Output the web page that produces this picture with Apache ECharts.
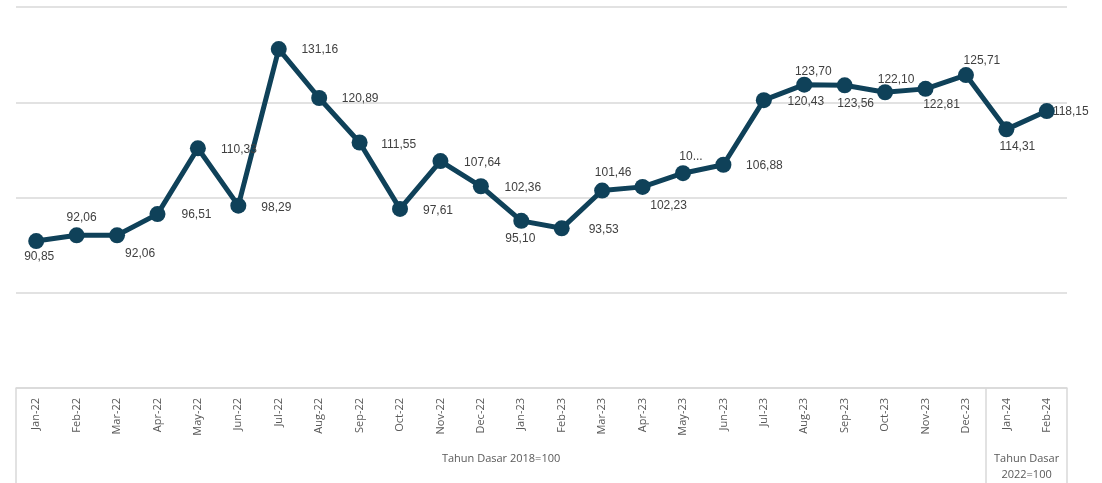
<!DOCTYPE html>
<html>
<head>
<meta charset="utf-8">
<script src="https://cdn.jsdelivr.net/npm/echarts@6/dist/echarts.min.js"></script>
<style>
  html, body { margin: 0; padding: 0; background: #fff; }
  #main { width: 1102px; height: 483px; }
</style>
</head>
<body>
<div id="main"></div>
<script>
// data
var months = ['Jan-22', 'Feb-22', 'Mar-22', 'Apr-22', 'May-22', 'Jun-22', 'Jul-22', 'Aug-22', 'Sep-22', 'Oct-22', 'Nov-22', 'Dec-22',
              'Jan-23', 'Feb-23', 'Mar-23', 'Apr-23', 'May-23', 'Jun-23', 'Jul-23', 'Aug-23', 'Sep-23', 'Oct-23', 'Nov-23', 'Dec-23',
              'Jan-24', 'Feb-24'];
var values = [90.85, 92.06, 92.06, 96.51, 110.33, 98.29, 131.16, 120.89, 111.55, 97.61, 107.64, 102.36,
              95.10, 93.53, 101.46, 102.23, 105.10, 106.88, 120.43, 123.70, 123.56, 122.10, 122.81, 125.71,
              114.31, 118.15];
// label texts that are cut off in the original
var shortLabels = { 16: '10...' };
var groupNames = ['Tahun Dasar 2018=100', 'Tahun Dasar\n2022=100'];
var groupCenters = [12, 25];
var groupEdges = [0, 24, 26];

// label offsets from the point centre (layout only)
var labelOffsets = [
  [3, 16], [5, -18], [23, 18], [39, 1], [41, 1], [38, 2], [41, 1], [41, 1],
  [39, 2], [38, 2], [42, 2], [42, 1], [-1, 18], [42, 1], [11, -18], [26, 19],
  [8, -17], [41, 1], [42, 1], [9, -13], [11, 18], [11, -13], [16, 16], [16, -14],
  [11, 17], [24, 1]
];

var seriesData = values.map(function (v, i) {
  return {
    value: v,
    label: { offset: labelOffsets[i] }
  };
});

var myChart = echarts.init(document.getElementById('main'));

var option = {
  backgroundColor: '#ffffff',
  animation: false,
  grid: { left: 16, right: 35, top: 7, bottom: 95 },
  xAxis: [
    {
      type: 'category',
      data: months,
      boundaryGap: true,
      axisLine: { show: true, lineStyle: { color: '#d9d9d9', width: 1.5 } },
      axisTick: { show: false },
      axisLabel: {
        interval: 0,
        rotate: 90,
        margin: 10,
        color: '#595959',
        fontSize: 11,
        fontFamily: 'Open Sans'
      }
    },
    {
      type: 'value',
      min: 0,
      max: 26,
      position: 'bottom',
      splitLine: { show: false },
      axisLine: { show: false },
      axisTick: {
        show: true,
        customValues: groupEdges,
        length: 96,
        lineStyle: { color: '#d9d9d9', width: 1.5 }
      },
      axisLabel: {
        customValues: groupCenters,
        margin: 63,
        color: '#595959',
        fontSize: 11,
        lineHeight: 16,
        fontFamily: 'Open Sans',
        formatter: function (val) {
          return groupNames[groupCenters.indexOf(val)] || '';
        }
      }
    }
  ],
  yAxis: {
    type: 'value',
    min: 60,
    max: 140,
    interval: 20,
    axisLine: { show: false },
    axisTick: { show: false },
    axisLabel: { show: false },
    splitLine: { show: true, lineStyle: { color: '#d9d9d9', width: 1.5 } }
  },
  series: [
    {
      name: 'Indeks',
      type: 'line',
      xAxisIndex: 0,
      data: seriesData,
      symbol: 'circle',
      symbolSize: 16,
      lineStyle: { color: '#0f4159', width: 5 },
      itemStyle: { color: '#0f4159' },
      label: {
        show: true,
        position: 'inside',
        align: 'center',
        verticalAlign: 'middle',
        color: '#404040',
        fontSize: 12,
        fontFamily: 'Liberation Sans',
        formatter: function (p) {
          if (shortLabels[p.dataIndex]) return shortLabels[p.dataIndex];
          return p.value.toFixed(2).replace('.', ',');
        }
      }
    }
  ]
};

myChart.setOption(option);
</script>
</body>
</html>
